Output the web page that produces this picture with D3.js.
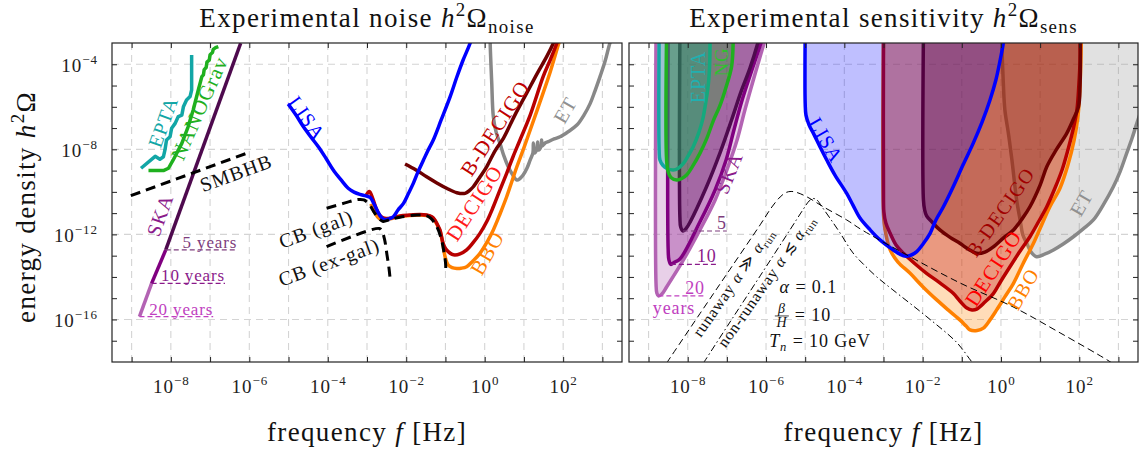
<!DOCTYPE html>
<html>
<head>
<meta charset="utf-8">
<script src="https://cdn.jsdelivr.net/npm/d3@7"></script>
<style>
  body { margin: 0; background: #fff; }
  text { font-family: "Liberation Serif", "DejaVu Serif", serif; letter-spacing: 0.05em; }
</style>
</head>
<body>
<div id="chart"></div>
<script>
// all points are [log10 f / Hz, log10 h^2 Omega]

// ---- left panel: noise curves ----
const eptaNoise = [[-8.76,-8.89],[-8.40,-8.33],[-8.28,-8.47],[-8.19,-8.35],[-8.15,-8.03],[-8.11,-7.56],[-8.02,-7.41],[-7.98,-7.01],[-7.89,-6.78],[-7.81,-6.46],[-7.72,-6.39],[-7.68,-6.00],[-7.60,-5.68],[-7.51,-5.52],[-7.47,-5.21],[-7.47,-3.56]];
const nanogravNoise = [[-8.57,-9.00],[-8.19,-9.00],[-8.06,-8.89],[-7.94,-8.50],[-7.72,-7.72],[-7.56,-6.94],[-7.43,-6.15],[-7.30,-5.21],[-7.21,-4.58],[-7.17,-4.50],[-7.15,-4.25],[-7.10,-4.15],[-7.08,-3.90],[-7.02,-3.80],[-7.00,-3.55],[-6.94,-3.45],[-6.92,-3.30],[-6.86,-3.22],[-6.79,-3.17]];
const skaNoise = [[-8.80,-15.87],[-8.49,-14.30],[-8.13,-12.73],[-6.22,-3.01]]; // 20 yr | 10 yr | 5 yr
const smbhb = [[-9.02,-10.18],[-6.03,-8.16]];
const lisaNoise = [[-5.01,-5.87],[-4.81,-6.39],[-4.62,-6.94],[-4.43,-7.42],[-4.24,-7.88],[-4.05,-8.41],[-3.86,-8.97],[-3.66,-9.44],[-3.48,-9.83],[-3.33,-10.01],[-3.18,-10.12],[-3.03,-10.19],[-2.92,-10.26],[-2.82,-10.57],[-2.72,-10.95],[-2.62,-11.23],[-2.54,-11.31],[-2.44,-11.27],[-2.33,-11.17],[-2.21,-10.85],[-2.07,-10.54],[-1.95,-10.10],[-1.82,-9.60],[-1.70,-9.06],[-1.56,-8.50],[-1.44,-8.03],[-1.31,-7.56],[-1.11,-6.62],[-0.88,-5.52],[-0.71,-4.60],[-0.55,-3.80],[-0.37,-3.00],[-0.33,-2.7]];
const bdecigoNoise = [[-2.03,-8.69],[-1.75,-8.97],[-1.48,-9.29],[-1.22,-9.58],[-0.97,-9.83],[-0.71,-10.04],[-0.50,-10.07],[-0.37,-9.91],[-0.29,-9.76],[-0.12,-9.30],[0.05,-8.82],[0.26,-8.08],[0.48,-7.47],[0.77,-6.39],[1.07,-5.36],[1.33,-4.46],[1.58,-3.64],[1.75,-3.01],[1.82,-2.7]];
const decigoNoise = [[-3.03,-10.19],[-2.94,-9.98],[-2.85,-10.33],[-2.75,-10.85],[-2.64,-11.16],[-2.52,-11.25],[-2.41,-11.24],[-2.16,-11.13],[-1.90,-11.09],[-1.65,-11.06],[-1.48,-11.09],[-1.34,-11.18],[-1.27,-11.32],[-1.19,-11.60],[-1.14,-11.79],[-1.06,-12.42],[-0.99,-12.69],[-0.93,-12.81],[-0.83,-12.94],[-0.76,-12.97],[-0.63,-12.92],[-0.46,-12.73],[-0.30,-12.40],[-0.12,-11.95],[0.06,-11.37],[0.22,-10.70],[0.39,-9.91],[0.56,-9.13],[0.72,-8.36],[0.90,-7.56],[1.16,-6.39],[1.49,-4.58],[1.67,-3.80],[1.84,-3.01],[1.90,-2.7]];
const bboNoise = [[-2.90,-10.57],[-2.80,-10.99],[-2.69,-11.25],[-2.52,-11.30],[-2.41,-11.27],[-2.16,-11.16],[-1.90,-11.11],[-1.65,-11.09],[-1.48,-11.11],[-1.34,-11.20],[-1.27,-11.35],[-1.19,-11.63],[-1.14,-11.84],[-1.06,-12.50],[-1.01,-13.05],[-0.93,-13.44],[-0.83,-13.56],[-0.71,-13.60],[-0.60,-13.59],[-0.46,-13.52],[-0.30,-13.25],[-0.12,-12.89],[0.06,-12.36],[0.22,-11.79],[0.39,-11.04],[0.56,-10.23],[0.82,-8.82],[0.98,-8.03],[1.16,-7.09],[1.41,-5.77],[1.67,-4.36],[1.89,-3.01],[1.95,-2.7]];
const etNoise = [[0.14,-2.7],[0.14,-3.01],[0.18,-4.89],[0.22,-6.46],[0.29,-7.18],[0.39,-7.72],[0.49,-8.31],[0.60,-8.82],[0.70,-9.16],[0.82,-9.44],[0.90,-9.37],[0.98,-9.21],[1.08,-8.88],[1.16,-8.50],[1.23,-8.17],[1.24,-7.70],[1.27,-8.17],[1.33,-7.98],[1.35,-7.65],[1.37,-8.03],[1.44,-7.84],[1.45,-7.56],[1.47,-7.84],[1.54,-7.70],[1.62,-7.64],[1.77,-7.51],[1.92,-7.41],[2.12,-7.18],[2.35,-6.86],[2.53,-6.39],[2.69,-5.84],[2.81,-5.26],[2.94,-4.58],[3.07,-3.85],[3.19,-3.01],[3.25,-2.7]];
const cbGal = [[-4.03,-10.77],[-3.56,-10.52],[-3.23,-10.36],[-3.08,-10.38],[-2.95,-10.57],[-2.82,-10.95],[-2.69,-11.27],[-2.59,-11.39],[-2.41,-11.30],[-2.16,-11.19],[-1.73,-11.09],[-1.50,-11.11],[-1.37,-11.25],[-1.22,-11.64],[-1.10,-12.26],[-1.04,-12.83],[-1.00,-13.30],[-0.99,-13.77]];
const cbExgal = [[-4.03,-12.58],[-2.69,-11.72],[-2.62,-11.84],[-2.55,-12.26],[-2.49,-12.97],[-2.44,-13.58],[-2.41,-14.10]];

// ---- right panel: sensitivity regions (open at the top) ----
const skaSens20 = [[-8.81,-2.5],[-8.81,-14.30],[-8.79,-14.75],[-8.75,-14.89],[-8.66,-14.80],[-8.54,-14.47],[-8.11,-13.20],[-7.69,-11.79],[-7.30,-10.38],[-7.00,-8.97],[-6.74,-7.56],[-6.54,-6.15],[-6.31,-4.65],[-6.05,-3.00],[-5.97,-2.5]];
const skaSens10 = [[-8.50,-2.5],[-8.50,-12.70],[-8.48,-13.20],[-8.43,-13.41],[-8.35,-13.32],[-8.20,-13.16],[-7.69,-11.42],[-7.30,-9.91],[-7.02,-8.50],[-6.82,-7.09],[-6.61,-5.68],[-6.36,-4.27],[-6.13,-3.00],[-6.05,-2.5]];
const skaSens5 = [[-8.20,-2.5],[-8.20,-11.20],[-8.18,-11.65],[-8.12,-11.84],[-8.04,-11.72],[-7.94,-11.42],[-7.52,-9.76],[-7.18,-8.19],[-6.88,-6.62],[-6.64,-5.30],[-6.41,-4.18],[-6.21,-3.00],[-6.14,-2.5]];
const eptaSens = [[-8.73,-2.5],[-8.73,-8.03],[-8.71,-8.50],[-8.63,-8.76],[-8.54,-8.89],[-8.37,-8.97],[-8.25,-8.90],[-8.11,-8.66],[-7.99,-8.31],[-7.86,-7.88],[-7.71,-7.18],[-7.61,-6.53],[-7.53,-5.68],[-7.47,-4.88],[-7.44,-4.03],[-7.43,-3.0],[-7.43,-2.5]];
const ngSens = [[-8.54,-2.5],[-8.54,-8.50],[-8.50,-9.06],[-8.43,-9.32],[-8.28,-9.44],[-8.15,-9.37],[-8.03,-9.21],[-7.87,-8.78],[-7.69,-8.19],[-7.51,-7.47],[-7.35,-6.67],[-7.18,-5.96],[-7.02,-5.07],[-6.88,-4.11],[-6.84,-3.0],[-6.84,-2.5]];
const lisaSens = [[-5.00,-2.5],[-5.00,-5.84],[-4.98,-6.39],[-4.90,-6.86],[-4.79,-7.25],[-4.62,-7.89],[-4.45,-8.50],[-4.24,-9.21],[-3.94,-10.07],[-3.78,-10.62],[-3.60,-11.23],[-3.34,-11.79],[-3.09,-12.26],[-2.75,-12.73],[-2.49,-13.01],[-2.32,-12.99],[-2.15,-12.81],[-1.99,-12.45],[-1.81,-11.95],[-1.66,-11.32],[-1.47,-10.70],[-1.22,-9.76],[-0.97,-8.74],[-0.71,-7.72],[-0.48,-6.71],[-0.28,-5.68],[-0.13,-4.74],[-0.02,-3.80],[0.06,-3.00],[0.08,-2.5]];
const bboSens = [[-3.00,-2.5],[-3.00,-11.09],[-2.96,-11.79],[-2.83,-12.73],[-2.63,-13.30],[-2.32,-13.83],[-1.99,-14.47],[-1.64,-15.08],[-1.35,-15.55],[-1.05,-16.02],[-0.89,-16.31],[-0.79,-16.49],[-0.61,-16.52],[-0.45,-16.41],[-0.28,-16.02],[-0.11,-15.55],[0.10,-14.94],[0.32,-14.30],[0.56,-13.39],[0.83,-12.42],[1.05,-11.51],[1.25,-10.70],[1.51,-9.82],[1.71,-8.74],[1.87,-7.56],[1.97,-6.39],[2.02,-4.97],[2.05,-3.00],[2.05,-2.5]];
const decigoSens = [[-3.00,-2.5],[-3.00,-10.38],[-2.99,-10.95],[-2.94,-11.46],[-2.83,-11.95],[-2.68,-12.50],[-2.49,-12.89],[-2.19,-13.39],[-1.90,-13.83],[-1.56,-14.28],[-1.22,-14.77],[-1.05,-15.13],[-0.87,-15.46],[-0.74,-15.55],[-0.62,-15.51],[-0.41,-15.18],[-0.19,-14.77],[0.00,-14.19],[0.23,-13.52],[0.49,-12.78],[0.74,-12.11],[0.97,-11.37],[1.17,-10.70],[1.38,-9.82],[1.56,-8.97],[1.71,-8.03],[1.84,-7.09],[1.94,-6.15],[1.99,-4.97],[2.02,-3.80],[2.02,-2.5]];
const bdecigoSens = [[-1.98,-2.5],[-1.98,-10.38],[-1.95,-10.85],[-1.90,-11.13],[-1.76,-11.42],[-1.56,-11.79],[-1.30,-12.14],[-1.05,-12.42],[-0.84,-12.69],[-0.62,-12.89],[-0.41,-12.83],[-0.19,-12.58],[0.05,-12.19],[0.32,-11.79],[0.54,-11.27],[0.74,-10.70],[1.00,-9.68],[1.17,-8.82],[1.41,-8.03],[1.68,-7.25],[1.84,-6.62],[1.98,-6.00],[2.02,-4.97],[2.03,-3.00],[2.03,-2.5]];
const etSens = [[0.01,-2.5],[0.02,-3.00],[0.06,-4.89],[0.10,-6.15],[0.19,-7.25],[0.28,-8.50],[0.40,-10.38],[0.49,-11.32],[0.56,-12.03],[0.66,-12.42],[0.77,-12.83],[0.91,-13.05],[1.13,-12.92],[1.34,-12.73],[1.59,-12.45],[1.85,-12.11],[2.10,-11.74],[2.36,-11.32],[2.61,-10.62],[2.87,-9.76],[3.04,-9.06],[3.21,-8.19],[3.35,-7.47],[3.47,-6.78],[3.68,-5.68]];
const ptRunaway = [[-8.54,-18.05],[-7.69,-15.73],[-6.92,-13.64],[-6.15,-11.55],[-5.85,-10.71],[-5.64,-10.24],[-5.49,-10.03],[-5.36,-9.98],[-5.21,-10.03],[-4.95,-10.24],[-4.54,-10.70],[-3.94,-11.32],[-3.55,-11.79],[-2.50,-12.87],[-1.05,-14.28],[0.31,-15.41],[1.51,-16.63],[2.71,-17.90],[2.91,-18.14]];
const ptNonRunaway = [[-7.60,-18.05],[-6.92,-16.12],[-6.15,-13.95],[-5.39,-11.79],[-5.06,-10.85],[-4.90,-10.43],[-4.80,-10.31],[-4.70,-10.38],[-4.57,-10.71],[-4.37,-11.23],[-4.11,-11.93],[-3.78,-12.87],[-3.47,-13.48],[-3.17,-14.00],[-2.76,-14.61],[-1.89,-15.88],[-1.12,-17.10],[-0.74,-18.00],[-0.66,-18.14]];

const skaYears = ['20', '10', '5'];
const xTickExp = d3.range(-9, 4);
const xLabelExp = [-8, -6, -4, -2, 0, 2];
const yTickExp = d3.range(-17, -3);
const yLabelExp = [-16, -12, -8, -4];

// ---- layout ----
const W = 1148, H = 450, TOP = 43, BOT = 362;
const X0 = [112, 629], X1 = [622, 1138];

const svg = d3.select('#chart').append('svg').attr('width', W).attr('height', H);

// text with italic / super / sub parts
function rich(sel, parts, fs) {
  let off = 0;
  parts.forEach(p => {
    const [s, k] = Array.isArray(p) ? p : [p, ''];
    const target = k.includes('^') ? -0.42 * fs : k.includes('_') ? 0.22 * fs : 0;
    const ts = sel.append('tspan').text(s);
    if (target !== off) ts.attr('dy', target - off);
    off = target;
    if (k.includes('^') || k.includes('_')) ts.attr('font-size', fs * 0.7);
    if (k.includes('i')) ts.attr('font-style', 'italic');
  });
  return sel;
}

function makePanel(i) {
  const x = d3.scaleLog().domain([10 ** -9.5, 10 ** 3.5]).range([X0[i], X1[i]]);
  const y = d3.scaleLog().domain([1e-18, 1e-3]).range([BOT, TOP]);
  const g = svg.append('g');
  g.append('g').selectAll('line').data(xTickExp).join('line')
    .attr('x1', e => x(10 ** e)).attr('x2', e => x(10 ** e))
    .attr('y1', TOP).attr('y2', BOT);
  g.append('g').selectAll('line').data(yLabelExp).join('line')
    .attr('x1', X0[i]).attr('x2', X1[i])
    .attr('y1', e => y(10 ** e)).attr('y2', e => y(10 ** e));
  g.selectAll('line').attr('stroke', '#d4d4d4').attr('stroke-width', 1.1).attr('stroke-dasharray', '7,5');

  svg.append('clipPath').attr('id', 'clip' + i).append('rect')
    .attr('x', X0[i]).attr('y', TOP).attr('width', X1[i] - X0[i]).attr('height', BOT - TOP);
  const plot = g.append('g').attr('clip-path', `url(#clip${i})`);
  const line = d3.line().x(d => x(10 ** d[0])).y(d => y(10 ** d[1]))
    .curve(d3.curveCatmullRom.alpha(0.5));
  const pos = d => [x(10 ** d[0]), y(10 ** d[1])];
  return { x, y, g, plot, line, pos, i };
}

function axes(p, withLabels) {
  const { x, y, g } = p;
  const xs = xTickExp.map(e => 10 ** e), ys = yTickExp.map(e => 10 ** e);
  const sup = e => (e < 0 ? '\u2212' + (-e) : '' + e);
  const tidy = a => {
    a.select('.domain').remove();
    a.selectAll('.tick line').attr('stroke', '#222');
    a.attr('font-family', null).attr('font-size', 19);
  };
  const bx = g.append('g').attr('transform', `translate(0,${BOT})`)
    .call(d3.axisBottom(x).tickValues(xs).tickSizeInner(-5).tickSizeOuter(0)).call(tidy);
  bx.selectAll('.tick text').each(function (d) {
    const e = Math.round(Math.log10(d));
    const t = d3.select(this).text(null).attr('y', 31).attr('dy', null).attr('fill', '#222');
    if (!xLabelExp.includes(e)) return;
    t.append('tspan').text('10');
    t.append('tspan').attr('dy', -8).attr('font-size', 13).text(sup(e));
  });
  g.append('g').attr('transform', `translate(0,${TOP})`)
    .call(d3.axisTop(x).tickValues(xs).tickSizeInner(-5).tickSizeOuter(0).tickFormat(''))
    .call(tidy);
  const ly = g.append('g').attr('transform', `translate(${X0[p.i]},0)`)
    .call(d3.axisLeft(y).tickValues(ys).tickSizeInner(-5).tickSizeOuter(0)).call(tidy);
  ly.selectAll('.tick text').each(function (d) {
    const e = Math.round(Math.log10(d));
    const t = d3.select(this).text(null).attr('x', -14).attr('dy', 7).attr('fill', '#222');
    if (!withLabels || !yLabelExp.includes(e)) return;
    t.append('tspan').text('10');
    t.append('tspan').attr('dy', -8).attr('font-size', 13).text(sup(e));
  });
  g.append('g').attr('transform', `translate(${X1[p.i]},0)`)
    .call(d3.axisRight(y).tickValues(ys).tickSizeInner(-5).tickSizeOuter(0).tickFormat(''))
    .call(tidy);
  g.append('rect').attr('x', X0[p.i]).attr('y', TOP)
    .attr('width', X1[p.i] - X0[p.i]).attr('height', BOT - TOP)
    .attr('fill', 'none').attr('stroke', '#222').attr('stroke-width', 1.2);
}

function stroke(p, pts, color, w, dash, linear) {
  const gen = linear ? p.line.curve(d3.curveLinear) : p.line;
  const d = gen(pts);
  p.line.curve(d3.curveCatmullRom.alpha(0.5));
  return p.plot.append('path').attr('d', d).attr('fill', 'none')
    .attr('stroke', color).attr('stroke-width', w).attr('stroke-linejoin', 'round')
    .attr('stroke-dasharray', dash || null);
}

function region(p, pts, color, fill, alpha, extra) {
  let d = p.line(pts);
  if (extra) d += extra.map(c => 'L' + p.pos(c).join(',')).join('') + 'Z';
  p.plot.append('path').attr('d', d).attr('fill', fill).attr('fill-opacity', alpha).attr('stroke', 'none');
  stroke(p, pts, color, 3.5);
}

function label(p, spec) {
  const [px, py] = p.pos(spec.at);
  const t = svg.append('text')
    .attr('transform', `translate(${px},${py}) rotate(${spec.rot || 0})`)
    .attr('text-anchor', spec.anchor || 'middle').attr('dy', spec.dy != null ? spec.dy : '0.35em')
    .attr('font-size', spec.fs).attr('fill', spec.c);
  if (Array.isArray(spec.t)) rich(t, spec.t, spec.fs); else t.text(spec.t);
  return t;
}

function title(i, parts) {
  const t = svg.append('text').attr('x', (X0[i] + X1[i]) / 2).attr('y', 27)
    .attr('text-anchor', 'middle').attr('font-size', 27).attr('fill', '#111');
  rich(t, parts, 27);
  svg.append('text').attr('x', (X0[i] + X1[i]) / 2).attr('y', 441)
    .attr('text-anchor', 'middle').attr('font-size', 27).attr('fill', '#111')
    .call(s => rich(s, ['frequency ', ['f', 'i'], ' [Hz]'], 27));
}

// ================= left panel =================
const L = makePanel(0);
const skaCols = ['#b363b3', '#800080', '#4e0a4e'];
const yearCols = ['#c040c0', '#8a1a8a', '#7d3d7d'];

stroke(L, etNoise, '#888888', 3.5);
stroke(L, eptaNoise, '#12a6a6', 3.5, null, true);
stroke(L, nanogravNoise, '#1fb01f', 3.5, null, true);
skaYears.forEach((yr, k) => stroke(L, skaNoise.slice(k, k + 2), skaCols[k], 3.5, null, true));
stroke(L, smbhb, '#000', 3, '10,6', true);
stroke(L, bdecigoNoise, '#6e0000', 3.5);
stroke(L, bboNoise, '#ff8000', 3.5);
stroke(L, decigoNoise, '#b80000', 3.5);
stroke(L, lisaNoise, '#0000ff', 3.5);
stroke(L, cbGal, '#000', 3, '10,6');
stroke(L, cbExgal, '#000', 3, '10,6');

// SKA observation-time markers
const yearTextX = [-8.55, -8.25, -7.70];
skaYears.forEach((yr, k) => {
  const bp = skaNoise[k];
  const t = label(L, { t: yr + ' years', at: [yearTextX[k], bp[1]], anchor: 'start', dy: -2, fs: 17, c: yearCols[k] });
  const x2 = L.pos([yearTextX[k], bp[1]])[0] + t.node().getComputedTextLength();
  L.plot.append('line').attr('x1', L.pos(bp)[0]).attr('x2', x2)
    .attr('y1', L.pos(bp)[1]).attr('y2', L.pos(bp)[1])
    .attr('stroke', yearCols[k]).attr('stroke-width', 1.2).attr('stroke-dasharray', '5,3');
});

[
  { t: 'EPTA', at: [-8.20, -6.71], rot: -70, c: '#12a6a6', fs: 20 },
  { t: 'NANOGrav', at: [-7.28, -6.06], rot: -66, c: '#1fb01f', fs: 21 },
  { t: 'SKA', at: [-8.28, -11.09], rot: -70, c: '#8b1a8b', fs: 20 },
  { t: 'SMBHB', at: [-6.34, -9.11], rot: -20, c: '#111', fs: 20 },
  { t: 'LISA', at: [-4.53, -6.53], rot: 55, c: '#0000ff', fs: 20 },
  { t: 'CB (gal)', at: [-4.30, -11.74], rot: -20, c: '#111', fs: 20 },
  { t: 'CB (ex-gal)', at: [-3.97, -13.30], rot: -20, c: '#111', fs: 20 },
  { t: 'B-DECIGO', at: [0.26, -7.00], rot: -57, c: '#c00000', fs: 21 },
  { t: 'DECIGO', at: [-0.27, -10.52], rot: -57, c: '#ff1a1a', fs: 21 },
  { t: 'BBO', at: [0.06, -12.87], rot: -60, c: '#ff8000', fs: 21 },
  { t: 'ET', at: [2.05, -6.15], rot: -60, c: '#909090', fs: 20 },
].forEach(s => label(L, s));

axes(L, true);
title(0, ['Experimental noise ', ['h', 'i'], ['2', '^'], 'Ω', ['noise', '_']]);
svg.append('text').attr('transform', 'translate(35,207) rotate(-90)')
  .attr('text-anchor', 'middle').attr('font-size', 27).attr('fill', '#111')
  .call(s => rich(s, ['energy density ', ['h', 'i'], ['2', '^'], 'Ω'], 27));

// ================= right panel =================
const R = makePanel(1);
region(R, skaSens20, '#b363b3', '#b363b3', 0.3);
region(R, skaSens10, '#800080', '#800080', 0.3);
region(R, skaSens5, '#4e0a4e', '#4e0a4e', 0.3);
region(R, eptaSens, '#12a6a6', '#12a6a6', 0.35);
region(R, ngSens, '#1fb01f', '#1fb01f', 0.3);
region(R, etSens, '#888888', '#888888', 0.25, [[3.8, -5.68], [3.8, -2.5]]);
region(R, bboSens, '#ff8000', '#ff8000', 0.28);
region(R, decigoSens, '#b80000', '#b80000', 0.3);
region(R, bdecigoSens, '#6e0000', '#6e0000', 0.3);
region(R, lisaSens, '#0000ff', '#0000ff', 0.25);
stroke(R, ptRunaway, '#000', 1, '7,4');
stroke(R, ptNonRunaway, '#000', 1, '7,3,1.5,3');

// SKA year markers on the right
const skaTips = [skaSens20[3], skaSens10[3], skaSens5[3]];
const yearEndX = [-7.56, -7.26, -7.00];
skaYears.forEach((yr, k) => {
  const [tx, ty] = R.pos(skaTips[k]);
  const x2 = R.pos([yearEndX[k], skaTips[k][1]])[0];
  R.plot.append('line').attr('x1', tx).attr('x2', x2).attr('y1', ty).attr('y2', ty)
    .attr('stroke', yearCols[k]).attr('stroke-width', 1.2).attr('stroke-dasharray', '5,3');
  label(R, { t: yr, at: [yearEndX[k], skaTips[k][1]], anchor: 'end', dy: -2, fs: 18, c: yearCols[k] });
});
label(R, { t: 'years', at: [-8.35, -15.74], fs: 18, c: yearCols[0], dy: 0 });

[
  { t: 'EPTA', at: [-7.74, -4.60], rot: -90, c: '#20b0b0', fs: 20 },
  { t: 'NG', at: [-7.15, -3.89], rot: -90, c: '#2fc02f', fs: 19 },
  { t: 'SKA', at: [-6.95, -9.11], rot: -68, c: '#8b1a8b', fs: 20 },
  { t: 'LISA', at: [-4.47, -7.56], rot: 60, c: '#0000ff', fs: 20 },
  { t: 'B-DECIGO', at: [-0.02, -10.95], rot: -55, c: '#a00000', fs: 20 },
  { t: 'DECIGO', at: [-0.20, -13.58], rot: -57, c: '#ff0000', fs: 21 },
  { t: 'BBO', at: [0.56, -14.57], rot: -60, c: '#ff8000', fs: 20 },
  { t: 'ET', at: [2.05, -10.52], rot: -60, c: '#909090', fs: 20 },
  { t: ['runaway ', ['α', 'i'], ' ≫ ', ['α', 'i'], ['run', '_']], at: [-6.84, -14.24], rot: -55, c: '#111', fs: 16 },
  { t: ['non-runaway ', ['α', 'i'], ' ≲ ', ['α', 'i'], ['run', '_']], at: [-6.00, -14.19], rot: -55, c: '#111', fs: 16 },
  { t: [['α', 'i'], ' = 0.1'], at: [-4.92, -14.75], c: '#111', fs: 18, dy: 0 },
  { t: [['T', 'i'], ['n', '_i'], ' = 10 GeV'], at: [-4.62, -17.29], c: '#111', fs: 18, dy: 0 },
].forEach(s => label(R, s));

// beta/H fraction
{
  const [fx, fy] = R.pos([-5.06, -16.07]);
  const fr = svg.append('g').attr('fill', '#111');
  fr.append('text').attr('x', fx - 21).attr('y', fy - 8).attr('text-anchor', 'middle')
    .attr('font-size', 14).attr('font-style', 'italic').text('β');
  fr.append('line').attr('x1', fx - 28).attr('x2', fx - 14).attr('y1', fy - 5).attr('y2', fy - 5)
    .attr('stroke', '#111').attr('stroke-width', 0.8);
  fr.append('text').attr('x', fx - 21).attr('y', fy + 6).attr('text-anchor', 'middle')
    .attr('font-size', 14).attr('font-style', 'italic').text('H');
  fr.append('text').attr('x', fx - 8).attr('y', fy).attr('font-size', 18).text('= 10');
}

axes(R, false);
title(1, ['Experimental sensitivity ', ['h', 'i'], ['2', '^'], 'Ω', ['sens', '_']]);
</script>
</body>
</html>
